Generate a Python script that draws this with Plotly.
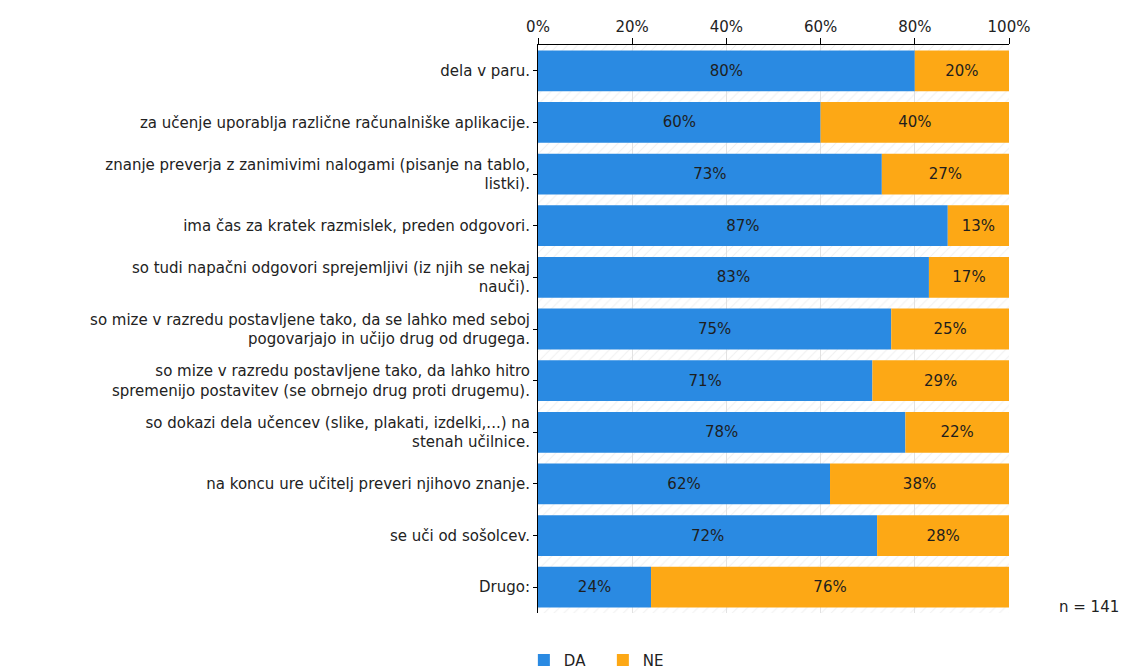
import plotly.graph_objects as go

categories = [
    "dela v paru.",
    "za učenje uporablja različne računalniške aplikacije.",
    "znanje preverja z zanimivimi nalogami (pisanje na tablo,<br>listki).",
    "ima čas za kratek razmislek, preden odgovori.",
    "so tudi napačni odgovori sprejemljivi (iz njih se nekaj<br>nauči).",
    "so mize v razredu postavljene tako, da se lahko med seboj<br>pogovarjajo in učijo drug od drugega.",
    "so mize v razredu postavljene tako, da lahko hitro<br>spremenijo postavitev (se obrnejo drug proti drugemu).",
    "so dokazi dela učencev (slike, plakati, izdelki,...) na<br>stenah učilnice.",
    "na koncu ure učitelj preveri njihovo znanje.",
    "se uči od sošolcev.",
    "Drugo:",
]
da_values = [80, 60, 73, 87, 83, 75, 71, 78, 62, 72, 24]
ne_values = [20, 40, 27, 13, 17, 25, 29, 22, 38, 28, 76]
tick_vals = [0, 20, 40, 60, 80, 100]
tick_text = ["0%", "20%", "40%", "60%", "80%", "100%"]

FONT = "DejaVu Sans"
FS = 15
BLUE = "#2a8ae2"
ORANGE = "#fda815"
TXT = "#222222"

fig = go.Figure()

# hatched background band
fig.add_trace(go.Bar(
    y=categories, x=[100] * len(categories), orientation="h", width=1,
    marker=dict(color="rgba(0,0,0,0)", line=dict(width=0),
                pattern=dict(shape="/", fgcolor="#e2e2e2", size=7, solidity=0.15)),
    showlegend=False, hoverinfo="skip",
))
fig.add_trace(go.Bar(
    y=categories, x=da_values, orientation="h", name="DA", width=0.79,
    marker=dict(color=BLUE, line=dict(width=0)),
    text=[f"{v}%" for v in da_values], textposition="inside",
    insidetextanchor="middle", textangle=0,
    textfont=dict(family=FONT, size=FS, color="#1e1e1e"),
))
fig.add_trace(go.Bar(
    y=categories, x=ne_values, base=da_values, orientation="h", name="NE", width=0.79,
    marker=dict(color=ORANGE, line=dict(width=0)),
    text=[f"{v}%" for v in ne_values], textposition="inside",
    insidetextanchor="middle", textangle=0,
    textfont=dict(family=FONT, size=FS, color="#1e1e1e"),
))

fig.update_layout(
    barmode="overlay",
    width=1121, height=662,
    margin=dict(l=530, r=120, t=37, b=57, autoexpand=False),
    paper_bgcolor="white", plot_bgcolor="white",
    font=dict(family=FONT, size=FS, color=TXT),
    uniformtext=dict(mode="show", minsize=8),
    legend=dict(orientation="h", x=-0.03, xanchor="left", y=-0.083, yanchor="middle",
                font=dict(family=FONT, size=FS, color=TXT),
                entrywidth=34, entrywidthmode="pixels", traceorder="normal"),
    xaxis=dict(side="top", range=[0, 100], tickvals=tick_vals, ticktext=tick_text,
               showgrid=True, gridcolor="#e2e2e2", gridwidth=1,
               showline=True, linecolor="black", linewidth=1,
               ticks="outside", ticklen=6, tickcolor="black",
               zeroline=False, fixedrange=True,
               tickfont=dict(family=FONT, size=FS, color=TXT)),
    yaxis=dict(autorange="reversed", showline=True, linecolor="black", linewidth=1,
               ticks="outside", ticklen=4, tickcolor="black", showgrid=False,
               tickfont=dict(family=FONT, size=FS, color=TXT), fixedrange=True),
    annotations=[dict(text="n = 141", xref="paper", yref="paper", x=1.238, y=0.011,
                      xanchor="right", yanchor="middle", showarrow=False,
                      font=dict(family=FONT, size=FS, color=TXT))],
)

fig.write_html("out.html")
